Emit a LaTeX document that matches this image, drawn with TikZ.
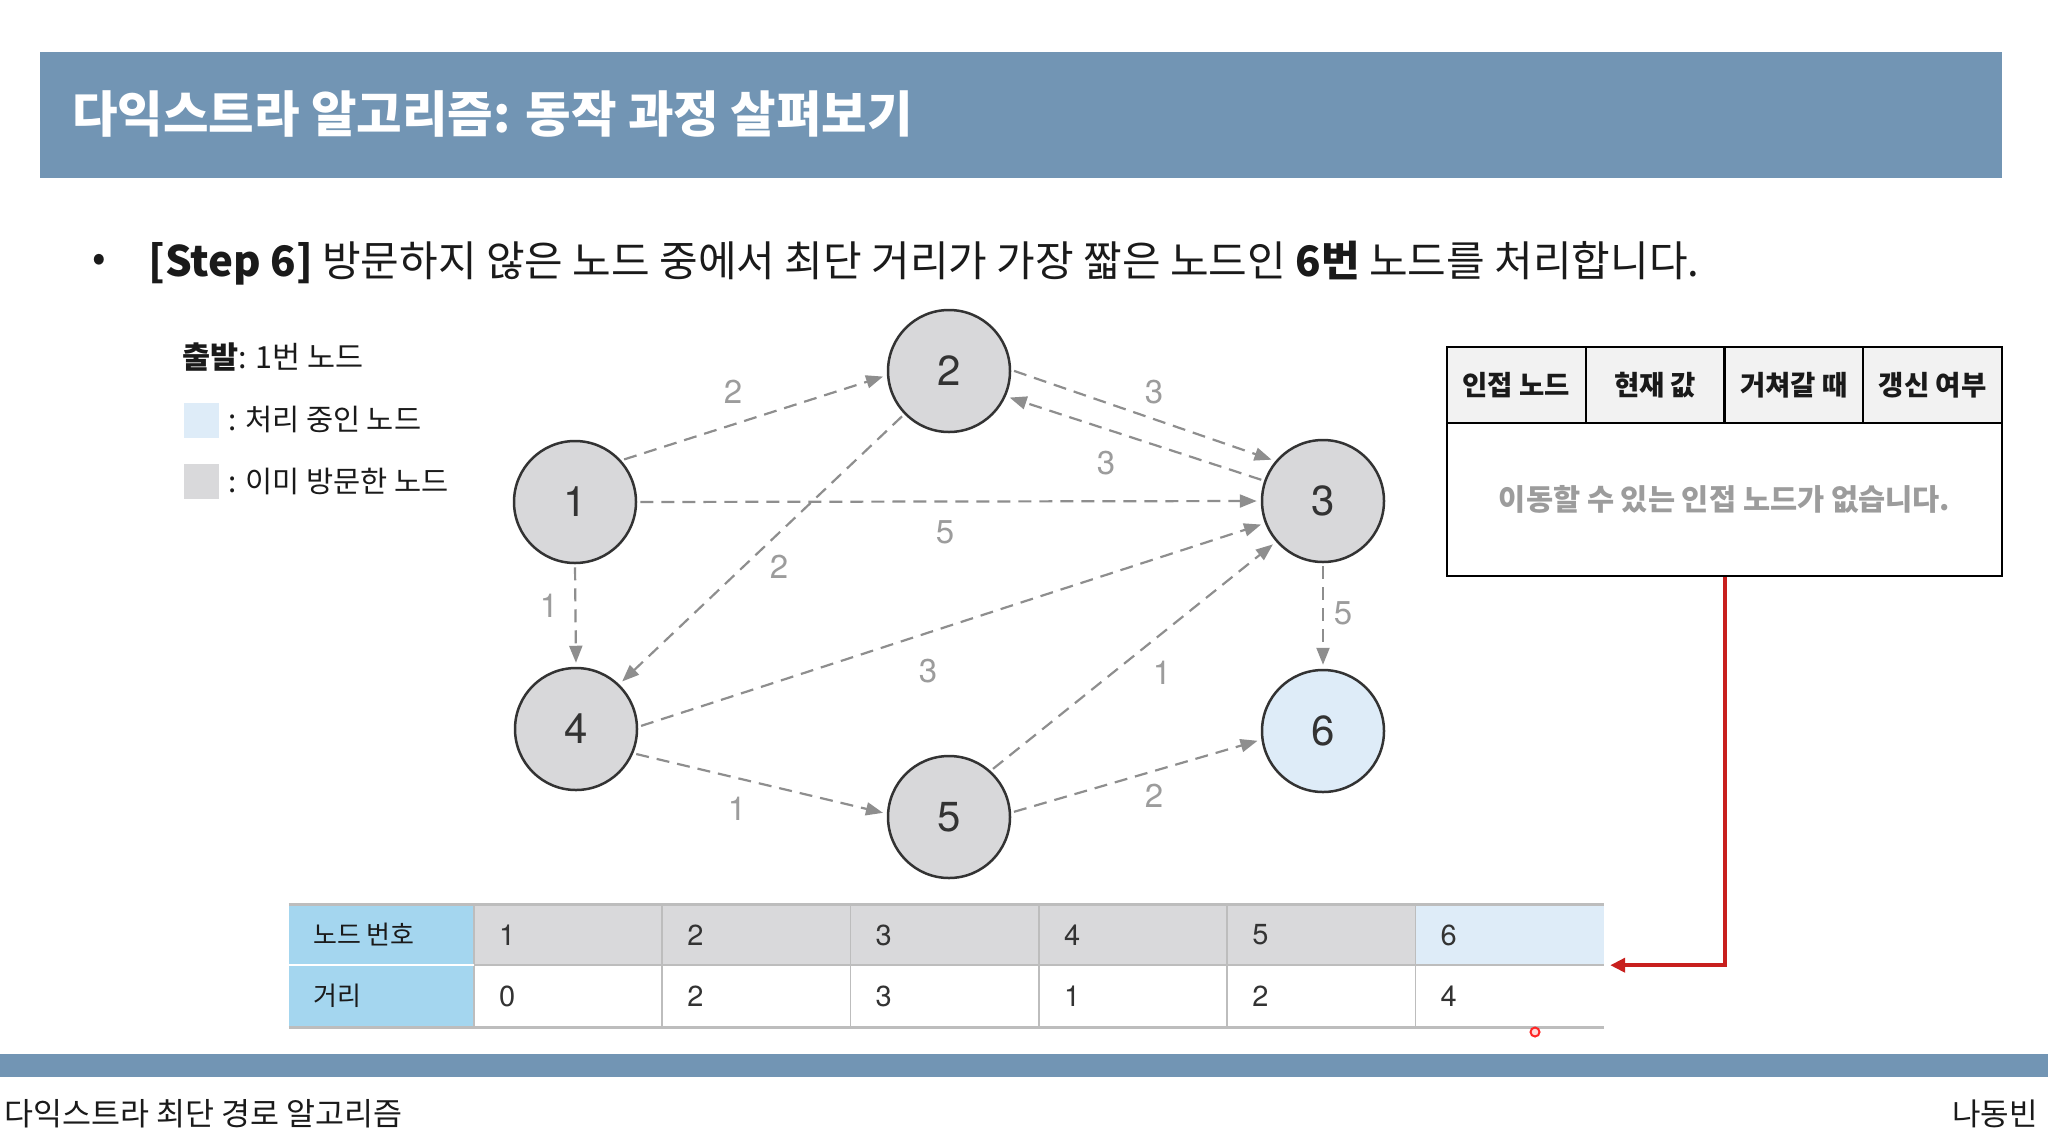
\documentclass[tikz,border=0pt]{standalone}
\usepackage{fontspec}
\setmainfont{Noto Sans CJK KR}
\newfontfamily\hv{TeX Gyre Heros}
\usetikzlibrary{arrows.meta}
\definecolor{titleblue}{HTML}{7295B4}
\definecolor{nodegray}{HTML}{D8D8DA}
\definecolor{nodeblue}{HTML}{DEECF8}
\definecolor{edgegray}{HTML}{8E8E8E}
\definecolor{labgray}{HTML}{9C9C9C}
\definecolor{skyblue}{HTML}{A4D6EF}
\definecolor{cellgray}{HTML}{D9D9DB}
\definecolor{gridgray}{HTML}{BDBDBD}
\definecolor{headgray}{HTML}{F2F2F2}
\definecolor{arrowred}{HTML}{C8201E}
\definecolor{txt}{HTML}{1A1A1A}
\newcommand{\fsz}[1]{\fontsize{#1}{#1}\selectfont}
\begin{document}
\begin{tikzpicture}[x=1pt,y=-1pt,
  gnode/.style={circle, draw=black!80, line width=2.5pt, fill=nodegray, minimum size=122pt, inner sep=0pt, font=\hv\fsz{42}, text=black!80},
  dedge/.style={draw=edgegray, line width=2.2pt, dash pattern=on 13pt off 8pt, -{Triangle[length=17pt,width=13pt]}, shorten <=3pt, shorten >=4pt},
  elab/.style={text=labgray, font=\hv\fsz{33}, inner sep=0pt},
  txtnode/.style={inner sep=0pt, text=txt},
  hcell/.style={draw=black, line width=2pt, fill=headgray, minimum width=138.75pt, minimum height=76pt, inner sep=0pt, font=\bfseries\fsz{27.5}, text=txt},
  tcell/.style={minimum width=188.33pt, minimum height=60pt, inner sep=0pt, draw=none},
  tval/.style={anchor=west, inner sep=0pt, font=\hv\fsz{29}, text=black!80},
  thead/.style={anchor=west, inner sep=0pt, font=\fsz{26}, text=txt},
  legsq/.style={minimum size=35pt, inner sep=0pt, draw=none}
]
\useasboundingbox (0,0) rectangle (2048,1144);
\fill[white] (0,0) rectangle (2048,1144);

% title bar
\fill[titleblue] (40,52) rectangle (2002,178);
\node[txtnode, anchor=west, text=white, font=\bfseries\fsz{49.5}] (title) at (72,114) {다익스트라 알고리즘: 동작 과정 살펴보기};

% subtitle
\node[txtnode, font=\fsz{40}] (bullet) at (99,263) {•};
\node[txtnode, anchor=west, font=\fsz{42}] (sub) at (148,263) {\textbf{[Step 6]} 방문하지 않은 노드 중에서 최단 거리가 가장 짧은 노드인 \textbf{6번} 노드를 처리합니다.};

% legend
\node[txtnode, anchor=west, font=\fsz{30.5}] (start) at (182,357) {\textbf{출발}: 1번 노드};
\node[legsq, fill=nodeblue] (lq1) at (201.5,420) {};
\node[txtnode, anchor=west, font=\fsz{29.5}] (lt1) at (228,419) {: 처리 중인 노드};
\node[legsq, fill=cellgray] (lq2) at (201.5,481.5) {};
\node[txtnode, anchor=west, font=\fsz{29.5}] (lt2) at (228,481) {: 이미 방문한 노드};

% graph nodes
\node[gnode] (n1) at (575,502) {1};
\node[gnode] (n2) at (949,371) {2};
\node[gnode] (n3) at (1323,501) {3};
\node[gnode] (n4) at (576,729) {4};
\node[gnode] (n5) at (949,817) {5};
\node[gnode, fill=nodeblue] (n6) at (1323,731) {6};

% edges
\draw[dedge] (n1.42) -- (n2.184);
\draw[dedge] (n1.0) -- (n3.180);
\draw[dedge] (n1.270) -- (n4.90);
\draw[dedge] (n2.1) -- (n3.140);
\draw[dedge] (n3.161) -- (n2.-24);
\draw[dedge] (n2.224) -- (n4.46);
\draw[dedge] (n4.2) -- (n3.201);
\draw[dedge] (n4.-23) -- (n5.177);
\draw[dedge] (n5.48) -- (n3.221);
\draw[dedge] (n5.4) -- (n6.188);
\draw[dedge] (n3.270) -- (n6.90);

% edge labels
\node[elab] (l12) at (733,392) {2};
\node[elab] (l24) at (779,567) {2};
\node[elab] (l14) at (549,606) {1};
\node[elab] (l45) at (737,809) {1};
\node[elab] (l23) at (1154,392) {3};
\node[elab] (l32) at (1106,463) {3};
\node[elab] (l13) at (945,532) {5};
\node[elab] (l43) at (928,671) {3};
\node[elab] (l53) at (1162,673) {1};
\node[elab] (l56) at (1154,796) {2};
\node[elab] (l36) at (1343,613) {5};

% right table
\node[hcell] (h1) at (1516.4,385) {인접 노드};
\node[hcell] (h2) at (1655.1,385) {현재 값};
\node[hcell] (h3) at (1793.9,385) {거쳐갈 때};
\node[hcell] (h4) at (1932.6,385) {갱신 여부};
\node[draw=black, line width=2pt, minimum width=555pt, minimum height=153pt, inner sep=0pt, text=labgray, font=\bfseries\fsz{29.5}] (tbody) at (1724.5,499.5) {이동할 수 있는 인접 노드가 없습니다.};

% bottom table
\node[tcell, fill=skyblue, minimum width=185pt] (r1h) at (381.5,935) {};
\node[tcell, fill=skyblue, minimum width=185pt, minimum height=62pt] (r2h) at (381.5,996) {};
\node[thead] (t1) at (313,935) {노드 번호};
\node[thead] (t2) at (313,996) {거리};
\foreach \i/\cx/\a/\b in {1/568.2/1/0, 2/756.5/2/2, 3/944.8/3/3, 4/1133.2/4/1, 5/1321.5/5/2, 6/1509.8/6/4}{
  \node[tcell, fill=cellgray] (c1\i) at (\cx,935) {};
  \node[tcell, fill=white, minimum height=62pt] (c2\i) at (\cx,996) {};
  \node[tval] (v1\i) at ([xshift=25pt]c1\i.west) {\a};
  \node[tval] (v2\i) at ([xshift=25pt]c2\i.west) {\b};
}
\node[tcell, fill=nodeblue] (c16b) at (1509.8,935) {};
\node[tval] at ([xshift=25pt]c16b.west) {6};
% grid lines
\draw[gridgray, line width=1.5pt] (c11.north west) -- (c21.south west);
\foreach \i in {2,...,6}{
  \draw[gridgray, line width=1.5pt] (c1\i.north west) -- (c2\i.south west);
}
\draw[white, line width=2pt] (r1h.south west) -- (r1h.south east);
\draw[gridgray, line width=2pt] (c11.south west) -- (c16.south east);
\draw[gridgray, line width=3pt] (r1h.north west) -- (c16.north east);
\draw[gridgray, line width=3pt] (r2h.south west) -- (c26.south east);

% red arrow
\coordinate (rtip) at ([xshift=6pt]c16.south east);
\draw[arrowred, line width=4pt, -{Triangle[length=15pt,width=14pt]}] (tbody.south) |- (rtip);
\node[circle, draw=red!85, fill=red!15, line width=2pt, minimum size=9pt, inner sep=0pt] (dot) at (1535,1032) {};

% footer
\fill[titleblue] (0,1054) rectangle (2048,1077);
\node[txtnode, anchor=west, font=\fsz{31.5}] (ft) at (4,1114) {다익스트라 최단 경로 알고리즘};
\node[txtnode, anchor=east, font=\fsz{31}] (au) at (2038,1114) {나동빈};
\end{tikzpicture}
\end{document}
